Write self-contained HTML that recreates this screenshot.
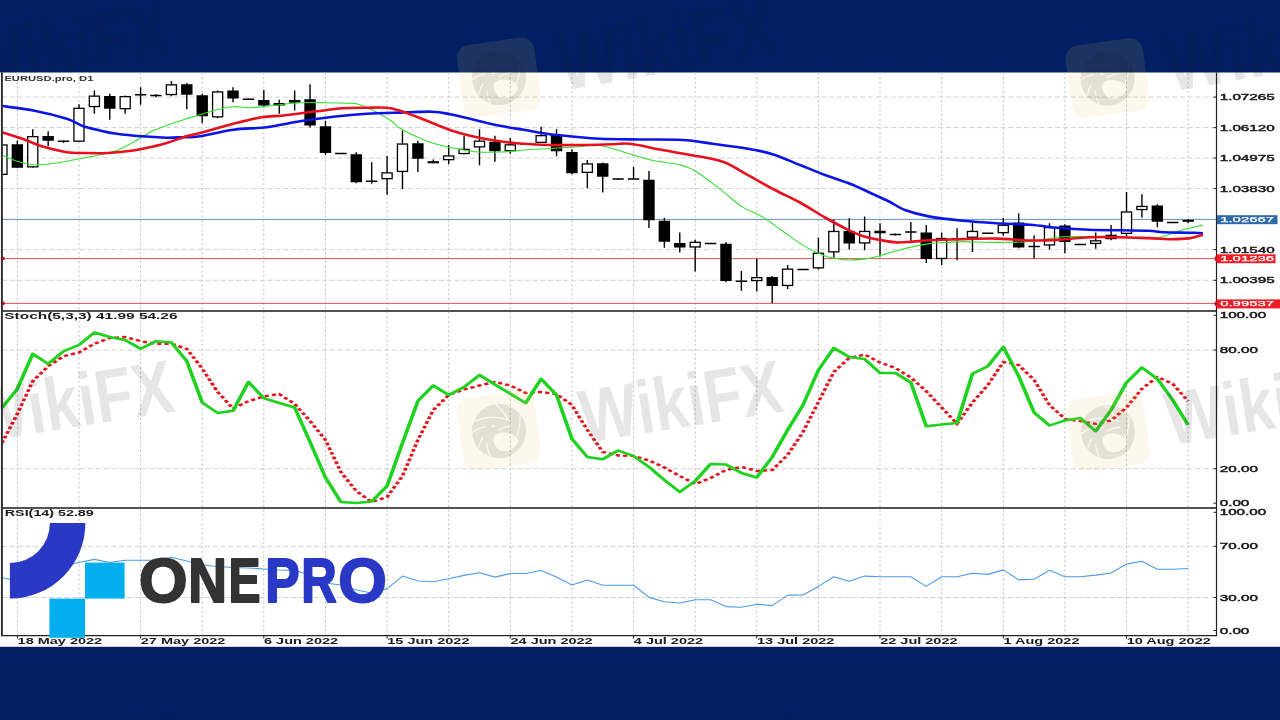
<!DOCTYPE html>
<html><head><meta charset="utf-8"><title>EURUSD.pro D1 chart</title>
<style>html,body{margin:0;padding:0;background:#011f62;} body{width:1280px;height:720px;overflow:hidden;} svg{display:block;}</style>
</head><body>
<svg width="1280" height="720" viewBox="0 0 1280 720">
<defs><clipPath id="cp1"><rect x="2.5" y="72.5" width="1213.5" height="238"/></clipPath><clipPath id="cp2"><rect x="2.5" y="311.5" width="1213.5" height="196"/></clipPath><mask id="em" maskUnits="userSpaceOnUse" x="-40" y="-40" width="80" height="80"><rect x="-40" y="-40" width="80" height="80" fill="#fff"/><g stroke="#000" stroke-width="1.3" fill="none" stroke-linecap="round"><path d="M0.5 -27 Q8 -18 11 -9"/><path d="M23 -12 Q21 4 12 15"/><path d="M-27 -2 Q-20 -6 -14 -6"/><path d="M-22 13 Q-20 7 -17 4"/><path d="M-14 11 Q-14 18 -12 24"/><path d="M-22 -13 Q-6 -18 10 -10"/><path d="M0 -1 Q6 -4 12 -3"/></g><path d="M-7 8 Q-6 1 4 2 Q14 3 18 12 Q14 21 4 21 Q-6 20 -7 8z" fill="#000"/><ellipse cx="-5" cy="-5.5" rx="2" ry="0.9" fill="#000"/></mask><clipPath id="navtop"><rect x="0" y="0" width="1280" height="72.5"/></clipPath><clipPath id="cp3"><rect x="2.5" y="508.5" width="1213.5" height="126.5"/></clipPath></defs>
<rect x="0" y="0" width="1280" height="720" fill="#011f62"/>
<rect x="0" y="72.5" width="1280" height="574.3" fill="#fff"/>
<path d="M17.4 72.5V635.6 M79.0 72.5V635.6 M140.6 72.5V635.6 M202.2 72.5V635.6 M263.8 72.5V635.6 M325.5 72.5V635.6 M387.1 72.5V635.6 M448.7 72.5V635.6 M510.3 72.5V635.6 M571.9 72.5V635.6 M633.6 72.5V635.6 M695.2 72.5V635.6 M756.8 72.5V635.6 M818.4 72.5V635.6 M880.0 72.5V635.6 M941.7 72.5V635.6 M1003.3 72.5V635.6 M1064.9 72.5V635.6 M1126.5 72.5V635.6 M1188.1 72.5V635.6" stroke="#c4c4c4" stroke-width="1" stroke-dasharray="2.3 2.3" fill="none"/>
<path d="M2.0 97.1H1216.5 M2.0 127.6H1216.5 M2.0 158.0H1216.5 M2.0 188.6H1216.5 M2.0 249.6H1216.5 M2.0 280.3H1216.5 M2.0 350.0H1216.5 M2.0 468.7H1216.5 M2.0 546.3H1216.5 M2.0 597.5H1216.5" stroke="#d2d2d2" stroke-width="1" stroke-dasharray="5.2 2.6" fill="none"/>
<line x1="2.0" y1="219.4" x2="1216.5" y2="219.4" stroke="#5f8fbf" stroke-width="1"/>
<line x1="2.0" y1="258.6" x2="1216.5" y2="258.6" stroke="#e0505a" stroke-width="1"/>
<line x1="2.0" y1="303.4" x2="1216.5" y2="303.4" stroke="#e0505a" stroke-width="1"/>
<g clip-path="url(#cp1)">
<path d="M1.95 144.3V175.0 M17.36 140.5V167.7 M32.76 129.3V167.5 M48.16 131.3V146.3 M63.57 140.5V143.0 M78.97 104.3V141.8 M94.38 90.5V113.8 M109.78 93.8V119.7 M125.19 95.5V113.8 M140.59 87.2V104.7 M156.00 94.2V97.2 M171.40 81.0V96.3 M186.81 83.0V109.3 M202.21 93.8V123.0 M217.62 90.5V118.3 M233.02 87.2V102.2 M248.43 98.5V100.0 M263.83 90.0V107.2 M279.24 99.7V113.8 M294.64 90.5V110.5 M310.05 84.3V127.5 M325.45 121.0V154.7 M340.86 153.0V154.0 M356.26 152.2V183.3 M371.67 162.2V183.8 M387.07 156.0V194.7 M402.48 130.5V189.0 M417.88 140.8V172.0 M433.29 159.5V163.3 M448.69 145.0V164.2 M464.10 135.8V154.2 M479.50 129.2V165.3 M494.91 135.8V161.7 M510.31 138.0V153.7 M525.72 143.5V144.5 M541.12 126.7V143.0 M556.53 129.2V156.3 M571.94 149.2V174.2 M587.34 160.0V188.3 M602.75 162.5V192.5 M618.15 178.5V179.5 M633.56 167.1V178.9 M648.96 171.1V227.9 M664.37 217.8V247.8 M679.77 232.4V252.6 M695.18 239.7V271.5 M710.58 243.0V244.0 M725.99 242.1V282.2 M741.39 271.1V290.8 M756.79 258.7V291.4 M772.20 276.0V302.9 M787.61 265.0V289.1 M803.01 269.0V270.0 M818.41 237.6V269.5 M833.82 219.6V257.7 M849.23 218.3V249.6 M864.63 216.6V250.2 M880.03 223.3V256.6 M895.44 233.5V235.5 M910.85 222.1V242.4 M926.25 225.0V262.9 M941.65 232.4V264.9 M957.06 228.3V260.2 M972.47 223.0V251.9 M1003.27 218.0V235.8 M1018.68 213.3V248.3 M1034.09 235.4V258.4 M1049.49 223.3V249.6 M1064.89 224.3V253.3 M1080.30 244.0V244.8 M1095.70 232.5V248.8 M1111.11 225.1V240.2 M1126.52 192.1V236.2 M1141.92 194.2V217.4 M1157.33 204.3V227.3 M1172.73 222.2V223.0 M1188.13 219.1V223.3" stroke="#000" stroke-width="1.4" fill="none"/>
<path d="M57.87 141.3h11.4 M134.89 94.7h11.4 M150.30 95.5h11.4 M242.73 99.2h11.4 M335.16 153.5h11.4 M365.97 181.3h11.4 M520.02 144.0h11.4 M612.45 178.9h11.4 M627.86 178.9h11.4 M704.88 243.5h11.4 M735.69 281.2h11.4 M797.31 269.5h11.4 M905.14 232.1h11.4 M982.17 233.3h11.4 M1028.38 246.4h11.4 M1074.60 244.4h11.4 M1167.03 222.6h11.4" stroke="#000" stroke-width="1.5" fill="none"/>
<path d="M11.66 144.3h11.4v23.40h-11.4z M42.46 136.0h11.4v4.80h-11.4z M104.08 96.0h11.4v12.80h-11.4z M181.11 84.2h11.4v10.50h-11.4z M196.51 95.2h11.4v21.10h-11.4z M227.32 90.5h11.4v8.00h-11.4z M258.13 100.0h11.4v5.50h-11.4z M304.35 99.2h11.4v26.30h-11.4z M319.75 126.3h11.4v26.70h-11.4z M350.56 154.3h11.4v27.90h-11.4z M412.19 143.3h11.4v15.50h-11.4z M489.21 141.7h11.4v9.60h-11.4z M550.83 135.0h11.4v16.30h-11.4z M566.24 152.0h11.4v21.30h-11.4z M597.04 163.3h11.4v13.40h-11.4z M643.26 179.7h11.4v40.50h-11.4z M658.66 220.8h11.4v20.90h-11.4z M674.07 243.1h11.4v4.50h-11.4z M720.28 243.7h11.4v37.30h-11.4z M766.50 277.0h11.4v9.10h-11.4z M843.52 231.1h11.4v12.50h-11.4z M874.33 230.8h11.4v2.50h-11.4z M889.74 233.8h11.4v1.50h-11.4z M920.55 232.4h11.4v26.70h-11.4z M951.36 237.9h11.4v2.00h-11.4z M1012.98 222.5h11.4v24.90h-11.4z M1059.19 225.4h11.4v16.70h-11.4z M1151.62 205.5h11.4v16.30h-11.4z" fill="#000"/>
<rect x="-3.10" y="144.95" width="10.10" height="29.40" fill="#fff" stroke="#000" stroke-width="1.3"/>
<rect x="27.71" y="136.65" width="10.10" height="30.20" fill="#fff" stroke="#000" stroke-width="1.3"/>
<rect x="73.92" y="108.35" width="10.10" height="32.80" fill="#fff" stroke="#000" stroke-width="1.3"/>
<rect x="89.33" y="96.15" width="10.10" height="10.40" fill="#fff" stroke="#000" stroke-width="1.3"/>
<rect x="120.14" y="96.65" width="10.10" height="12.00" fill="#fff" stroke="#000" stroke-width="1.3"/>
<rect x="166.35" y="84.85" width="10.10" height="9.70" fill="#fff" stroke="#000" stroke-width="1.3"/>
<rect x="212.57" y="91.95" width="10.10" height="24.90" fill="#fff" stroke="#000" stroke-width="1.3"/>
<rect x="274.19" y="103.65" width="10.10" height="1.20" fill="#fff" stroke="#000" stroke-width="1.3"/>
<rect x="289.59" y="100.65" width="10.10" height="1.40" fill="#fff" stroke="#000" stroke-width="1.3"/>
<rect x="382.02" y="172.85" width="10.10" height="5.80" fill="#fff" stroke="#000" stroke-width="1.3"/>
<rect x="397.43" y="144.05" width="10.10" height="27.40" fill="#fff" stroke="#000" stroke-width="1.3"/>
<rect x="428.24" y="161.85" width="10.10" height="0.80" fill="#fff" stroke="#000" stroke-width="1.3"/>
<rect x="443.64" y="155.95" width="10.10" height="3.70" fill="#fff" stroke="#000" stroke-width="1.3"/>
<rect x="459.05" y="149.35" width="10.10" height="4.20" fill="#fff" stroke="#000" stroke-width="1.3"/>
<rect x="474.45" y="141.15" width="10.10" height="5.70" fill="#fff" stroke="#000" stroke-width="1.3"/>
<rect x="505.26" y="144.85" width="10.10" height="5.80" fill="#fff" stroke="#000" stroke-width="1.3"/>
<rect x="536.07" y="135.65" width="10.10" height="6.70" fill="#fff" stroke="#000" stroke-width="1.3"/>
<rect x="582.29" y="163.95" width="10.10" height="8.40" fill="#fff" stroke="#000" stroke-width="1.3"/>
<rect x="690.12" y="242.35" width="10.10" height="4.60" fill="#fff" stroke="#000" stroke-width="1.3"/>
<rect x="751.74" y="277.65" width="10.10" height="2.90" fill="#fff" stroke="#000" stroke-width="1.3"/>
<rect x="782.55" y="269.15" width="10.10" height="16.30" fill="#fff" stroke="#000" stroke-width="1.3"/>
<rect x="813.36" y="253.25" width="10.10" height="14.60" fill="#fff" stroke="#000" stroke-width="1.3"/>
<rect x="828.77" y="231.45" width="10.10" height="20.40" fill="#fff" stroke="#000" stroke-width="1.3"/>
<rect x="859.58" y="231.45" width="10.10" height="11.50" fill="#fff" stroke="#000" stroke-width="1.3"/>
<rect x="936.60" y="238.55" width="10.10" height="19.90" fill="#fff" stroke="#000" stroke-width="1.3"/>
<rect x="967.41" y="231.45" width="10.10" height="5.80" fill="#fff" stroke="#000" stroke-width="1.3"/>
<rect x="998.22" y="225.25" width="10.10" height="7.40" fill="#fff" stroke="#000" stroke-width="1.3"/>
<rect x="1044.44" y="227.65" width="10.10" height="17.30" fill="#fff" stroke="#000" stroke-width="1.3"/>
<rect x="1090.65" y="240.85" width="10.10" height="2.60" fill="#fff" stroke="#000" stroke-width="1.3"/>
<rect x="1106.06" y="235.35" width="10.10" height="3.20" fill="#fff" stroke="#000" stroke-width="1.3"/>
<rect x="1121.47" y="211.95" width="10.10" height="21.40" fill="#fff" stroke="#000" stroke-width="1.3"/>
<rect x="1136.87" y="206.45" width="10.10" height="3.10" fill="#fff" stroke="#000" stroke-width="1.3"/>
<rect x="1183.09" y="220.55" width="10.10" height="0.60" fill="#fff" stroke="#000" stroke-width="1.3"/>
<path d="M0.0 154.5C0.3 154.6 -0.8 153.9 2.0 155.0C4.8 156.1 11.5 159.7 16.7 161.3C21.9 162.9 27.7 164.3 33.3 164.7C38.8 165.1 44.4 164.4 50.0 163.8C55.6 163.2 61.2 162.3 66.7 161.3C72.2 160.3 77.8 159.1 83.3 158.0C88.8 156.9 94.4 155.9 100.0 154.7C105.6 153.4 111.2 152.6 116.7 150.5C122.2 148.4 127.8 145.2 133.3 142.2C138.9 139.1 144.4 135.0 150.0 132.2C155.6 129.4 161.1 127.6 166.7 125.5C172.2 123.4 177.8 121.5 183.3 119.7C188.9 117.9 194.4 116.5 200.0 114.8C205.6 113.1 211.1 111.0 216.7 109.7C222.2 108.4 227.8 107.0 233.3 106.7C238.9 106.4 244.4 107.8 250.0 107.7C255.6 107.6 261.1 106.9 266.7 106.3C272.2 105.7 277.8 104.9 283.3 104.3C288.9 103.7 293.1 103.0 300.0 102.7C306.9 102.4 316.7 102.6 325.0 102.7C333.3 102.8 344.4 103.0 350.0 103.3C355.6 103.6 354.1 103.0 358.3 104.3C362.5 105.6 369.4 108.5 375.0 111.3C380.6 114.1 387.5 118.5 391.7 121.3C395.9 124.1 395.8 125.7 400.0 128.3C404.2 130.9 411.1 134.2 416.7 136.7C422.2 139.2 427.8 141.5 433.3 143.3C438.9 145.1 443.1 146.1 450.0 147.5C456.9 148.9 466.7 150.9 475.0 151.7C483.3 152.4 491.7 152.3 500.0 152.0C508.3 151.7 516.7 150.6 525.0 150.0C533.3 149.4 541.7 149.0 550.0 148.5C558.3 148.0 566.7 147.5 575.0 147.0C583.3 146.5 591.7 144.6 600.0 145.5C608.3 146.4 616.5 150.1 625.0 152.5C633.5 154.9 641.4 157.9 650.7 160.0C660.1 162.1 673.3 163.1 681.1 165.1C688.9 167.1 690.5 168.0 697.3 172.2C704.0 176.4 714.2 184.7 721.6 190.4C729.0 196.1 735.1 202.2 741.9 206.6C748.7 211.0 755.5 212.7 762.2 216.8C769.0 220.9 775.6 226.3 782.4 231.0C789.1 235.7 795.9 241.0 802.7 245.1C809.5 249.2 817.6 253.1 823.0 255.3C828.4 257.5 831.3 257.5 835.2 258.3C839.1 259.1 841.9 259.8 846.6 259.9C851.3 260.0 857.8 259.8 863.3 259.1C868.8 258.4 874.3 257.1 879.9 255.7C885.5 254.3 891.0 252.2 896.6 250.7C902.2 249.2 907.7 247.8 913.2 246.6C918.7 245.4 924.2 244.3 929.8 243.6C935.3 242.9 941.0 242.7 946.5 242.4C952.0 242.1 954.8 241.6 963.1 241.6C971.4 241.6 985.2 242.4 996.4 242.4C1007.5 242.4 1019.5 242.4 1030.0 241.5C1040.5 240.6 1049.8 237.8 1059.7 237.0C1069.6 236.2 1079.5 236.7 1089.4 236.7C1099.3 236.7 1107.9 237.0 1119.0 237.2C1130.1 237.4 1146.3 239.1 1156.2 238.1C1166.1 237.1 1170.6 233.2 1178.4 231.0C1186.2 228.8 1198.8 226.1 1202.9 225.1" fill="none" stroke="#33e033" stroke-width="1.1" stroke-linejoin="round"/>
<path d="M0.0 106.0C0.3 106.0 -3.5 105.2 2.0 106.0C7.5 106.8 22.5 108.4 33.3 110.5C44.1 112.6 58.4 116.2 66.7 118.8C75.0 121.4 77.8 124.3 83.3 126.3C88.8 128.2 94.4 129.2 100.0 130.5C105.6 131.8 109.8 132.8 116.7 133.8C123.7 134.8 133.4 135.7 141.7 136.3C150.0 137.0 159.8 137.5 166.7 137.7C173.6 137.8 177.8 137.4 183.3 137.2C188.9 137.0 191.7 137.6 200.0 136.3C208.3 135.1 222.2 131.2 233.3 129.7C244.4 128.2 255.6 128.6 266.7 127.2C277.8 125.8 288.9 123.0 300.0 121.3C311.1 119.5 322.2 118.0 333.3 116.7C344.4 115.5 355.6 114.5 366.7 113.8C377.8 113.1 389.2 112.9 400.0 112.6C410.8 112.2 423.4 111.4 431.7 111.7C440.0 112.0 442.8 112.8 450.0 114.2C457.2 115.6 466.7 118.1 475.0 120.0C483.3 121.9 491.7 124.1 500.0 125.8C508.3 127.5 516.7 128.6 525.0 130.0C533.3 131.4 541.7 133.1 550.0 134.2C558.3 135.3 566.7 135.9 575.0 136.7C583.3 137.5 589.2 138.3 600.0 138.8C610.8 139.2 626.2 139.3 640.0 139.5C653.8 139.7 670.4 139.3 682.5 140.0C694.6 140.7 700.4 142.1 712.5 143.8C724.6 145.4 744.6 148.1 755.0 150.0C765.4 151.9 767.5 152.5 775.0 155.0C782.5 157.5 791.7 161.7 800.0 165.0C808.3 168.3 816.7 171.9 825.0 175.0C833.3 178.1 841.7 180.4 850.0 183.8C858.3 187.1 868.3 192.0 875.0 195.0C881.7 198.0 885.0 199.5 890.0 202.0C895.0 204.5 898.3 207.6 904.9 210.0C911.5 212.4 920.1 214.8 929.8 216.6C939.5 218.4 952.0 219.7 963.1 220.8C974.2 221.9 985.2 222.6 996.4 223.3C1007.5 224.0 1019.5 224.0 1030.0 224.8C1040.5 225.6 1049.8 227.2 1059.7 228.0C1069.6 228.8 1079.5 229.4 1089.4 229.8C1099.3 230.2 1109.1 230.2 1119.0 230.3C1128.9 230.5 1141.3 230.4 1148.7 230.7C1156.1 231.0 1156.2 231.8 1163.6 232.2C1171.0 232.5 1186.8 232.6 1193.3 232.8C1199.8 233.0 1201.3 233.1 1202.9 233.2" fill="none" stroke="#0a14e6" stroke-width="2.6" stroke-linejoin="round"/>
<path d="M0.0 131.5C0.3 131.6 -2.2 130.8 2.0 132.2C6.2 133.6 18.4 137.3 25.0 139.7C31.6 142.0 34.8 144.2 41.7 146.3C48.7 148.4 59.8 151.1 66.7 152.2C73.6 153.3 76.4 152.9 83.3 153.0C90.2 153.1 100.0 153.4 108.3 153.0C116.6 152.6 126.4 151.5 133.3 150.5C140.2 149.5 144.4 148.4 150.0 147.2C155.6 145.9 161.1 144.7 166.7 143.0C172.2 141.3 177.8 138.9 183.3 137.2C188.9 135.5 191.7 135.2 200.0 133.0C208.3 130.8 223.0 126.4 233.3 123.8C243.6 121.2 253.4 118.6 261.7 117.2C270.0 115.8 274.1 116.5 283.3 115.5C292.5 114.5 307.0 112.5 316.7 111.3C326.4 110.1 333.4 108.9 341.7 108.3C350.0 107.7 359.2 107.8 366.7 107.7C374.2 107.6 381.1 107.2 386.7 107.7C392.2 108.2 393.6 108.8 400.0 110.8C406.4 112.8 416.7 116.8 425.0 120.0C433.3 123.2 442.5 127.4 450.0 130.0C457.5 132.6 463.1 134.1 470.0 135.8C476.9 137.5 483.9 138.8 491.7 140.0C499.5 141.2 507.0 142.5 516.7 143.3C526.4 144.1 538.9 144.7 550.0 145.0C561.1 145.3 572.8 145.1 583.3 145.0C593.8 144.9 605.5 144.4 613.3 144.2C621.1 144.0 621.8 142.8 630.0 143.8C638.2 144.7 650.0 147.7 662.5 150.0C675.0 152.3 694.6 155.4 705.0 157.5C715.4 159.6 717.5 159.4 725.0 162.5C732.5 165.6 741.7 171.7 750.0 176.2C758.3 180.8 766.7 185.6 775.0 190.0C783.3 194.4 791.7 197.9 800.0 202.5C808.3 207.1 817.2 213.1 825.0 217.5C832.8 221.9 840.2 226.0 846.6 229.1C853.0 232.2 857.8 234.5 863.3 236.3C868.8 238.1 874.3 239.0 879.9 240.0C885.5 241.0 891.0 242.1 896.6 242.4C902.2 242.7 907.7 241.9 913.2 241.6C918.7 241.2 921.5 240.7 929.8 240.3C938.1 239.9 952.0 239.4 963.1 239.1C974.2 238.8 985.2 238.4 996.4 238.6C1007.5 238.8 1019.5 240.3 1030.0 240.5C1040.5 240.7 1049.8 240.2 1059.7 239.6C1069.6 239.0 1079.5 237.6 1089.4 237.2C1099.3 236.8 1109.1 237.0 1119.0 237.2C1128.9 237.3 1140.0 237.8 1148.7 238.1C1157.4 238.4 1164.3 239.1 1171.0 239.2C1177.7 239.2 1183.5 239.2 1188.8 238.4C1194.1 237.7 1200.6 235.3 1202.9 234.7" fill="none" stroke="#e8101e" stroke-width="2.6" stroke-linejoin="round"/>
</g>
<g clip-path="url(#cp2)"><g transform="scale(1.5,1)">
<polyline points="1.30,443.0 11.57,413.8 21.84,381.2 32.11,366.2 42.38,356.2 52.65,352.5 62.92,343.8 73.19,338.0 83.46,337.0 93.73,341.2 104.00,343.8 114.27,343.8 124.54,348.8 134.81,368.5 145.08,392.0 155.35,408.5 165.62,401.2 175.89,396.5 186.16,394.0 196.43,404.0 206.70,421.0 216.97,440.0 227.24,472.0 237.51,491.0 247.78,502.0 258.05,497.0 268.32,476.0 278.59,440.0 288.86,410.0 299.13,395.0 309.40,389.5 319.67,385.5 329.94,382.0 340.21,385.5 350.48,393.0 360.75,392.0 371.02,394.0 381.29,405.0 391.56,430.0 401.83,452.0 412.10,455.5 422.37,456.0 432.64,460.5 442.91,467.5 453.18,476.0 463.45,484.0 473.72,478.0 483.99,470.0 494.26,467.0 504.53,471.0 514.80,470.0 525.07,455.0 535.34,432.0 545.61,402.0 555.88,372.0 566.15,358.0 576.42,354.5 586.69,362.5 596.96,368.0 607.23,377.5 617.50,391.2 627.77,407.5 638.04,423.8 648.31,402.5 658.58,385.0 668.85,362.0 679.12,365.0 689.39,380.0 699.66,405.0 709.93,418.8 720.20,421.2 730.47,423.8 740.74,420.5 751.01,407.5 761.28,388.8 771.55,377.0 781.82,383.8 792.09,401.2" fill="none" stroke="#e3141e" stroke-width="2.4" stroke-dasharray="2.8 2.1"/>
<polyline points="1.30,408.0 11.57,388.8 21.84,353.8 32.11,363.8 42.38,351.2 52.65,345.0 62.92,332.5 73.19,337.0 83.46,340.0 93.73,348.8 104.00,341.2 114.27,342.5 124.54,361.2 134.81,402.5 145.08,413.0 155.35,410.8 165.62,382.0 175.89,398.2 186.16,403.0 196.43,407.5 206.70,442.0 216.97,477.5 227.24,502.0 237.51,503.0 247.78,501.5 258.05,486.0 268.32,443.0 278.59,401.0 288.86,385.5 299.13,395.0 309.40,387.0 319.67,375.0 329.94,384.5 340.21,393.8 350.48,403.0 360.75,378.8 371.02,395.0 381.29,438.8 391.56,457.0 401.83,459.2 412.10,450.5 422.37,456.0 432.64,467.0 442.91,480.0 453.18,492.0 463.45,481.0 473.72,464.0 483.99,464.5 494.26,473.0 504.53,477.5 514.80,457.0 525.07,430.0 535.34,405.0 545.61,370.0 555.88,348.0 566.15,357.0 576.42,359.0 586.69,373.0 596.96,373.0 607.23,382.5 617.50,426.2 627.77,424.5 638.04,423.0 648.31,373.8 658.58,366.2 668.85,347.0 679.12,376.2 689.39,412.5 699.66,425.5 709.93,420.5 720.20,418.0 730.47,431.2 740.74,410.0 751.01,382.5 761.28,367.5 771.55,378.8 781.82,400.0 792.09,425.0" fill="none" stroke="#1ed21e" stroke-width="2.5" stroke-linejoin="round"/>
</g></g>
<g clip-path="url(#cp3)">
<polyline points="1.9,577.5 17.4,581.0 32.8,575.0 48.2,570.0 63.6,566.0 79.0,562.5 94.4,559.4 109.8,562.5 125.2,560.3 140.6,560.3 156.0,560.3 171.4,557.2 186.8,561.0 202.2,565.0 217.6,566.5 233.0,567.5 248.4,568.0 263.8,569.0 279.2,570.0 294.6,570.5 310.0,575.0 325.5,583.0 340.9,585.0 356.3,590.0 371.7,593.0 387.1,588.6 402.5,576.1 417.9,581.0 433.3,581.7 448.7,578.7 464.1,575.4 479.5,572.8 494.9,577.1 510.3,573.5 525.7,573.5 541.1,570.5 556.5,577.1 571.9,585.0 587.3,580.0 602.7,585.3 618.1,585.3 633.6,585.3 649.0,597.4 664.4,601.7 679.8,603.0 695.2,599.7 710.6,599.7 726.0,606.6 741.4,607.3 756.8,604.3 772.2,605.6 787.6,595.1 803.0,595.0 818.4,586.4 833.8,576.8 849.2,581.3 864.6,576.1 880.0,576.8 895.4,576.8 910.8,576.8 926.2,586.4 941.7,576.8 957.1,576.8 972.5,573.3 987.9,574.4 1003.3,569.9 1018.7,579.9 1034.1,579.2 1049.5,570.3 1064.9,576.8 1080.3,576.8 1095.7,575.1 1111.1,573.0 1126.5,564.1 1141.9,561.3 1157.3,569.2 1172.7,569.2 1188.1,568.5" fill="none" stroke="#4a9be8" stroke-width="1.1" stroke-linejoin="round"/>
</g>
<path d="M2.0 635.6H1216.5V72.5" stroke="#222" stroke-width="1.2" fill="none"/>
<path d="M2.0 311.0H1216.5 M2.0 508.0H1216.5" stroke="#1a1a1a" stroke-width="1.5" fill="none"/>
<path d="M1.9 72.5V636.2" stroke="#2a2a2a" stroke-width="1.9" fill="none"/>
<circle cx="3" cy="258.5" r="1.8" fill="#b00010"/><circle cx="3" cy="303.4" r="1.8" fill="#b00010"/>
<path d="M1213.5 97.1h3 M1213.5 127.6h3 M1213.5 158.0h3 M1213.5 188.6h3 M1213.5 249.6h3 M1213.5 280.3h3 M1213.5 315.3h3 M1213.5 350.0h3 M1213.5 468.7h3 M1213.5 503.2h3 M1213.5 512.3h3 M1213.5 546.3h3 M1213.5 597.5h3 M1213.5 630.5h3" stroke="#222" stroke-width="1" fill="none"/>
<path d="M17.4 635.6v3 M140.6 635.6v3 M263.8 635.6v3 M387.1 635.6v3 M510.3 635.6v3 M633.6 635.6v3 M756.8 635.6v3 M880.0 635.6v3 M1003.3 635.6v3 M1126.5 635.6v3" stroke="#222" stroke-width="1" fill="none"/>
<text x="1219.7" y="100.2" font-size="9.0" font-family="'Liberation Sans', Arial, sans-serif" font-weight="normal" fill="#1a1a1a" textLength="55.1" lengthAdjust="spacingAndGlyphs"  stroke="#1a1a1a" stroke-width="0.45">1.07265</text>
<text x="1219.7" y="130.7" font-size="9.0" font-family="'Liberation Sans', Arial, sans-serif" font-weight="normal" fill="#1a1a1a" textLength="55.1" lengthAdjust="spacingAndGlyphs"  stroke="#1a1a1a" stroke-width="0.45">1.06120</text>
<text x="1219.7" y="161.1" font-size="9.0" font-family="'Liberation Sans', Arial, sans-serif" font-weight="normal" fill="#1a1a1a" textLength="55.1" lengthAdjust="spacingAndGlyphs"  stroke="#1a1a1a" stroke-width="0.45">1.04975</text>
<text x="1219.7" y="191.7" font-size="9.0" font-family="'Liberation Sans', Arial, sans-serif" font-weight="normal" fill="#1a1a1a" textLength="55.1" lengthAdjust="spacingAndGlyphs"  stroke="#1a1a1a" stroke-width="0.45">1.03830</text>
<text x="1219.7" y="252.7" font-size="9.0" font-family="'Liberation Sans', Arial, sans-serif" font-weight="normal" fill="#1a1a1a" textLength="55.1" lengthAdjust="spacingAndGlyphs"  stroke="#1a1a1a" stroke-width="0.45">1.01540</text>
<text x="1219.7" y="283.4" font-size="9.0" font-family="'Liberation Sans', Arial, sans-serif" font-weight="normal" fill="#1a1a1a" textLength="55.1" lengthAdjust="spacingAndGlyphs"  stroke="#1a1a1a" stroke-width="0.45">1.00395</text>
<rect x="1217" y="215.2" width="60.5" height="9" fill="#2f6aa8"/>
<text x="1220.2" y="221.9" font-size="7.6" font-family="'Liberation Sans', Arial, sans-serif" font-weight="normal" fill="#fff" textLength="53.9" lengthAdjust="spacingAndGlyphs"  stroke="#fff" stroke-width="0.25">1.02667</text>
<rect x="1217" y="254.3" width="58.5" height="8.9" fill="#f01c24"/>
<text x="1220.2" y="261.2" font-size="7.6" font-family="'Liberation Sans', Arial, sans-serif" font-weight="normal" fill="#fff" textLength="53.9" lengthAdjust="spacingAndGlyphs"  stroke="#fff" stroke-width="0.25">1.01236</text>
<rect x="1217" y="299.4" width="63" height="9" fill="#f01c24"/>
<text x="1220.2" y="306.3" font-size="7.6" font-family="'Liberation Sans', Arial, sans-serif" font-weight="normal" fill="#fff" textLength="53.9" lengthAdjust="spacingAndGlyphs"  stroke="#fff" stroke-width="0.25">0.99537</text>
<path d="M1217 254.3l-3 4.3 3 4.3z M1217 299.4l-3 4.3 3 4.3z" fill="#c0101a"/>
<text x="1219.7" y="318.4" font-size="9.0" font-family="'Liberation Sans', Arial, sans-serif" font-weight="normal" fill="#1a1a1a" textLength="46.6" lengthAdjust="spacingAndGlyphs"  stroke="#1a1a1a" stroke-width="0.45">100.00</text>
<text x="1219.7" y="353.1" font-size="9.0" font-family="'Liberation Sans', Arial, sans-serif" font-weight="normal" fill="#1a1a1a" textLength="38.2" lengthAdjust="spacingAndGlyphs"  stroke="#1a1a1a" stroke-width="0.45">80.00</text>
<text x="1219.7" y="471.8" font-size="9.0" font-family="'Liberation Sans', Arial, sans-serif" font-weight="normal" fill="#1a1a1a" textLength="38.2" lengthAdjust="spacingAndGlyphs"  stroke="#1a1a1a" stroke-width="0.45">20.00</text>
<text x="1219.7" y="506.3" font-size="9.0" font-family="'Liberation Sans', Arial, sans-serif" font-weight="normal" fill="#1a1a1a" textLength="29.7" lengthAdjust="spacingAndGlyphs"  stroke="#1a1a1a" stroke-width="0.45">0.00</text>
<text x="1219.7" y="515.4" font-size="9.0" font-family="'Liberation Sans', Arial, sans-serif" font-weight="normal" fill="#1a1a1a" textLength="46.6" lengthAdjust="spacingAndGlyphs"  stroke="#1a1a1a" stroke-width="0.45">100.00</text>
<text x="1219.7" y="549.4" font-size="9.0" font-family="'Liberation Sans', Arial, sans-serif" font-weight="normal" fill="#1a1a1a" textLength="38.2" lengthAdjust="spacingAndGlyphs"  stroke="#1a1a1a" stroke-width="0.45">70.00</text>
<text x="1219.7" y="600.6" font-size="9.0" font-family="'Liberation Sans', Arial, sans-serif" font-weight="normal" fill="#1a1a1a" textLength="38.2" lengthAdjust="spacingAndGlyphs"  stroke="#1a1a1a" stroke-width="0.45">30.00</text>
<text x="1219.7" y="633.6" font-size="9.0" font-family="'Liberation Sans', Arial, sans-serif" font-weight="normal" fill="#1a1a1a" textLength="29.7" lengthAdjust="spacingAndGlyphs"  stroke="#1a1a1a" stroke-width="0.45">0.00</text>
<text x="17.6" y="644.2" font-size="9.0" font-family="'Liberation Sans', Arial, sans-serif" font-weight="bold" fill="#1a1a1a" textLength="84.6" lengthAdjust="spacingAndGlyphs" >18 May 2022</text>
<text x="140.8" y="644.2" font-size="9.0" font-family="'Liberation Sans', Arial, sans-serif" font-weight="bold" fill="#1a1a1a" textLength="84.6" lengthAdjust="spacingAndGlyphs" >27 May 2022</text>
<text x="264.0" y="644.2" font-size="9.0" font-family="'Liberation Sans', Arial, sans-serif" font-weight="bold" fill="#1a1a1a" textLength="74.1" lengthAdjust="spacingAndGlyphs" >6 Jun 2022</text>
<text x="387.3" y="644.2" font-size="9.0" font-family="'Liberation Sans', Arial, sans-serif" font-weight="bold" fill="#1a1a1a" textLength="82.2" lengthAdjust="spacingAndGlyphs" >15 Jun 2022</text>
<text x="510.5" y="644.2" font-size="9.0" font-family="'Liberation Sans', Arial, sans-serif" font-weight="bold" fill="#1a1a1a" textLength="82.2" lengthAdjust="spacingAndGlyphs" >24 Jun 2022</text>
<text x="633.8" y="644.2" font-size="9.0" font-family="'Liberation Sans', Arial, sans-serif" font-weight="bold" fill="#1a1a1a" textLength="69.3" lengthAdjust="spacingAndGlyphs" >4 Jul 2022</text>
<text x="757.0" y="644.2" font-size="9.0" font-family="'Liberation Sans', Arial, sans-serif" font-weight="bold" fill="#1a1a1a" textLength="77.4" lengthAdjust="spacingAndGlyphs" >13 Jul 2022</text>
<text x="880.2" y="644.2" font-size="9.0" font-family="'Liberation Sans', Arial, sans-serif" font-weight="bold" fill="#1a1a1a" textLength="77.4" lengthAdjust="spacingAndGlyphs" >22 Jul 2022</text>
<text x="1003.5" y="644.2" font-size="9.0" font-family="'Liberation Sans', Arial, sans-serif" font-weight="bold" fill="#1a1a1a" textLength="76.0" lengthAdjust="spacingAndGlyphs" >1 Aug 2022</text>
<text x="1126.7" y="644.2" font-size="9.0" font-family="'Liberation Sans', Arial, sans-serif" font-weight="bold" fill="#1a1a1a" textLength="84.1" lengthAdjust="spacingAndGlyphs" >10 Aug 2022</text>
<text x="4.4" y="80.6" font-size="7.4" font-family="'Liberation Sans', Arial, sans-serif" font-weight="bold" fill="#333" textLength="89.0" lengthAdjust="spacingAndGlyphs" >EURUSD.pro, D1</text>
<text x="4.3" y="318.6" font-size="9.0" font-family="'Liberation Sans', Arial, sans-serif" font-weight="bold" fill="#1a1a1a" textLength="173.2" lengthAdjust="spacingAndGlyphs" >Stoch(5,3,3) 41.99 54.26</text>
<text x="4.8" y="515.7" font-size="8.6" font-family="'Liberation Sans', Arial, sans-serif" font-weight="bold" fill="#1a1a1a" textLength="89.0" lengthAdjust="spacingAndGlyphs" >RSI(14) 52.89</text>
<g transform="translate(499,78) rotate(-8)"><rect x="-39" y="-37" width="78" height="73" rx="13" fill="#f0c860" fill-opacity="0.12"/><circle cx="0" cy="0" r="27" fill="#141414" fill-opacity="0.1" mask="url(#em)"/></g>
<g transform="translate(1107.5,78.6) rotate(-8)"><rect x="-39" y="-37" width="78" height="73" rx="13" fill="#f0c860" fill-opacity="0.12"/><circle cx="0" cy="0" r="27" fill="#141414" fill-opacity="0.1" mask="url(#em)"/></g>
<g transform="translate(499,431) rotate(-8)"><rect x="-39" y="-37" width="78" height="73" rx="13" fill="#f0c860" fill-opacity="0.12"/><circle cx="0" cy="0" r="27" fill="#141414" fill-opacity="0.1" mask="url(#em)"/></g>
<g transform="translate(1108,432) rotate(-8)"><rect x="-39" y="-37" width="78" height="73" rx="13" fill="#f0c860" fill-opacity="0.12"/><circle cx="0" cy="0" r="27" fill="#141414" fill-opacity="0.1" mask="url(#em)"/></g>
<g clip-path="url(#navtop)"><text x="-29" y="86" transform="rotate(-9 -29 86)" font-size="75" font-family="'Liberation Sans', Arial, sans-serif" font-weight="bold" fill="#1a1a1a" fill-opacity="0.11" textLength="204" lengthAdjust="spacingAndGlyphs">WikiFX</text></g>
<text x="562" y="91" transform="rotate(-10 562 91)" font-size="80" font-family="'Liberation Sans', Arial, sans-serif" font-weight="bold" fill="#1a1a1a" fill-opacity="0.11" textLength="222" lengthAdjust="spacingAndGlyphs">WikiFX</text>
<text x="1170" y="92" transform="rotate(-10 1170 92)" font-size="80" font-family="'Liberation Sans', Arial, sans-serif" font-weight="bold" fill="#1a1a1a" fill-opacity="0.11" textLength="222" lengthAdjust="spacingAndGlyphs">WikiFX</text>
<text x="-25" y="443" transform="rotate(-9 -25 443)" font-size="75" font-family="'Liberation Sans', Arial, sans-serif" font-weight="bold" fill="#1a1a1a" fill-opacity="0.11" textLength="204" lengthAdjust="spacingAndGlyphs">WikiFX</text>
<text x="584" y="443" transform="rotate(-9 584 443)" font-size="75" font-family="'Liberation Sans', Arial, sans-serif" font-weight="bold" fill="#1a1a1a" fill-opacity="0.11" textLength="204" lengthAdjust="spacingAndGlyphs">WikiFX</text>
<text x="1170" y="445" transform="rotate(-9 1170 445)" font-size="75" font-family="'Liberation Sans', Arial, sans-serif" font-weight="bold" fill="#1a1a1a" fill-opacity="0.11" textLength="204" lengthAdjust="spacingAndGlyphs">WikiFX</text>
<text x="-20" y="796" transform="rotate(-9 -20 796)" font-size="75" font-family="'Liberation Sans', Arial, sans-serif" font-weight="bold" fill="#1a1a1a" fill-opacity="0.11" textLength="204" lengthAdjust="spacingAndGlyphs">WikiFX</text>
<text x="600" y="796" transform="rotate(-9 600 796)" font-size="75" font-family="'Liberation Sans', Arial, sans-serif" font-weight="bold" fill="#1a1a1a" fill-opacity="0.11" textLength="204" lengthAdjust="spacingAndGlyphs">WikiFX</text>
<text x="1175" y="798" transform="rotate(-9 1175 798)" font-size="75" font-family="'Liberation Sans', Arial, sans-serif" font-weight="bold" fill="#1a1a1a" fill-opacity="0.11" textLength="204" lengthAdjust="spacingAndGlyphs">WikiFX</text>
<path d="M49.9 523.1H85.4A75.5 75.5 0 0 1 9.9 598.6V563.1A40.0 40.0 0 0 0 49.9 523.1z" fill="#2a38c6"/>
<rect x="85" y="562.6" width="39.6" height="36" fill="#03aeef"/>
<rect x="49.4" y="598.6" width="35.6" height="39.2" fill="#03aeef"/>
<text x="138.94" y="602.00" font-size="62.5" font-family="'Liberation Sans', Arial, sans-serif" font-weight="bold" fill="#333333" stroke="#333333" stroke-width="2.0" stroke-linejoin="round" textLength="48.57" lengthAdjust="spacingAndGlyphs">O</text>
<text x="188.21" y="602.00" font-size="62.5" font-family="'Liberation Sans', Arial, sans-serif" font-weight="bold" fill="#333333" stroke="#333333" stroke-width="2.0" stroke-linejoin="round" textLength="38.69" lengthAdjust="spacingAndGlyphs">N</text>
<text x="228.59" y="602.00" font-size="62.5" font-family="'Liberation Sans', Arial, sans-serif" font-weight="bold" fill="#333333" stroke="#333333" stroke-width="2.0" stroke-linejoin="round" textLength="31.98" lengthAdjust="spacingAndGlyphs">E</text>
<text x="265.14" y="602.00" font-size="62.5" font-family="'Liberation Sans', Arial, sans-serif" font-weight="bold" fill="#2a38c6" stroke="#2a38c6" stroke-width="2.0" stroke-linejoin="round" textLength="34.41" lengthAdjust="spacingAndGlyphs">P</text>
<text x="301.30" y="602.00" font-size="62.5" font-family="'Liberation Sans', Arial, sans-serif" font-weight="bold" fill="#2a38c6" stroke="#2a38c6" stroke-width="2.0" stroke-linejoin="round" textLength="35.54" lengthAdjust="spacingAndGlyphs">R</text>
<text x="338.34" y="602.00" font-size="62.5" font-family="'Liberation Sans', Arial, sans-serif" font-weight="bold" fill="#2a38c6" stroke="#2a38c6" stroke-width="2.0" stroke-linejoin="round" textLength="48.57" lengthAdjust="spacingAndGlyphs">O</text>
</svg>
</body></html>
